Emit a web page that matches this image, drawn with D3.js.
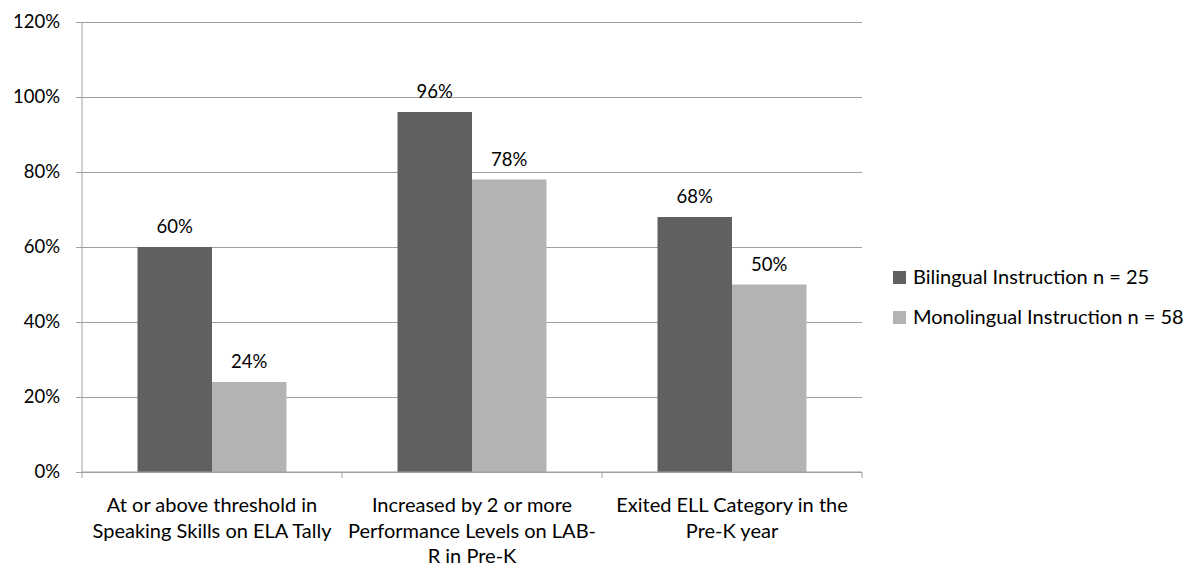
<!DOCTYPE html>
<html>
<head>
<meta charset="utf-8">
<script src="https://cdn.jsdelivr.net/npm/d3@7"></script>
<style>
  html, body { margin: 0; padding: 0; background: #fff; }
  svg { display: block; font-family: Lato, "Noto Sans", sans-serif; }
</style>
</head>
<body>
<svg id="chart" width="1191" height="569"></svg>
<script>
// Outcome categories (label lines as printed under the axis)
const categories = [
  ["At or above threshold in", "Speaking Skills on ELA Tally"],
  ["Increased by 2 or more", "Performance Levels on LAB-", "R in Pre-K"],
  ["Exited ELL Category in the", "Pre-K year"]
];
const seriesNames = ["Bilingual Instruction n = 25", "Monolingual Instruction n = 58"];
const bilingual = [0.60, 0.96, 0.68];
const monolingual = [0.24, 0.78, 0.50];
const yTicks = [0, 0.2, 0.4, 0.6, 0.8, 1.0, 1.2];
const colors = ["#606060", "#b3b3b3"];

const svg = d3.select("#chart");
const plotLeft = 82, plotRight = 862, plotTop = 22, plotBottom = 472;
const numSize = 18.5;   // percentages
const textSize = 20;    // category names and legend

const catIdx = categories.map((d, i) => i);
const x = d3.scaleBand().domain(catIdx).range([plotLeft, plotRight]).paddingInner(0).paddingOuter(0);
const xs = d3.scaleBand().domain([0, 1]).range([0, x.bandwidth()]).paddingInner(0).paddingOuter(0.745);
const y = d3.scaleLinear().domain([0, 1.2]).range([plotBottom, plotTop]);

const gridColor = "#a0a0a0";
const pct = d3.format(".0%");

// Horizontal gridlines + y axis
const yAxis = d3.axisLeft(y).tickValues(yTicks).tickSize(-(plotRight - plotLeft))
  .tickFormat(pct).tickPadding(22);
const gy = svg.append("g").attr("transform", `translate(${plotLeft},0)`).call(yAxis);
gy.select(".domain").remove();
gy.selectAll(".tick line").attr("stroke", gridColor).attr("stroke-width", 1).attr("x1", -6);
gy.selectAll(".tick text").attr("font-size", numSize).attr("fill", "#000")
  .attr("font-family", "Lato, 'Noto Sans', sans-serif");

// Vertical axis line
svg.append("line").attr("x1", plotLeft).attr("x2", plotLeft).attr("y1", plotTop).attr("y2", plotBottom)
  .attr("stroke", gridColor);

// Bars with value labels
const series = [bilingual, monolingual];
series.forEach((vals, s) => {
  svg.append("g").selectAll("rect").data(vals).join("rect")
    .attr("x", (d, i) => x(i) + xs(s))
    .attr("y", d => y(d))
    .attr("width", xs.bandwidth())
    .attr("height", d => y(0) - y(d))
    .attr("fill", colors[s]);
  svg.append("g").selectAll("text").data(vals).join("text")
    .attr("x", (d, i) => x(i) + xs(s) + xs.bandwidth() / 2)
    .attr("y", d => y(d) - 14)
    .attr("text-anchor", "middle")
    .attr("font-size", numSize)
    .text(d => pct(d));
});

// Category axis at the bottom, with ticks at category boundaries
svg.append("line").attr("x1", plotLeft).attr("x2", plotRight).attr("y1", plotBottom).attr("y2", plotBottom)
  .attr("stroke", gridColor);
const bounds = catIdx.map(i => x(i)).concat([plotRight]);
svg.append("g").selectAll("line").data(bounds).join("line")
  .attr("x1", d => d).attr("x2", d => d)
  .attr("y1", plotBottom).attr("y2", plotBottom + 6)
  .attr("stroke", gridColor);

const labels = svg.append("g").selectAll("text").data(categories).join("text")
  .attr("text-anchor", "middle")
  .attr("font-size", textSize)
  .attr("transform", (d, i) => `translate(${x(i) + x.bandwidth() / 2},${plotBottom + 40})`);
labels.selectAll("tspan").data(d => d).join("tspan")
  .attr("x", 0).attr("dy", (d, j) => j === 0 ? 0 : 25.5)
  .text(d => d);

// Legend
const legend = svg.append("g").attr("transform", "translate(893,271)");
const li = legend.selectAll("g").data(seriesNames).join("g")
  .attr("transform", (d, i) => `translate(0,${i * 40})`);
li.append("rect").attr("width", 13).attr("height", 13).attr("fill", (d, i) => colors[i]);
li.append("text").attr("x", 20).attr("y", 13).attr("font-size", textSize).text(d => d);
</script>
</body>
</html>
